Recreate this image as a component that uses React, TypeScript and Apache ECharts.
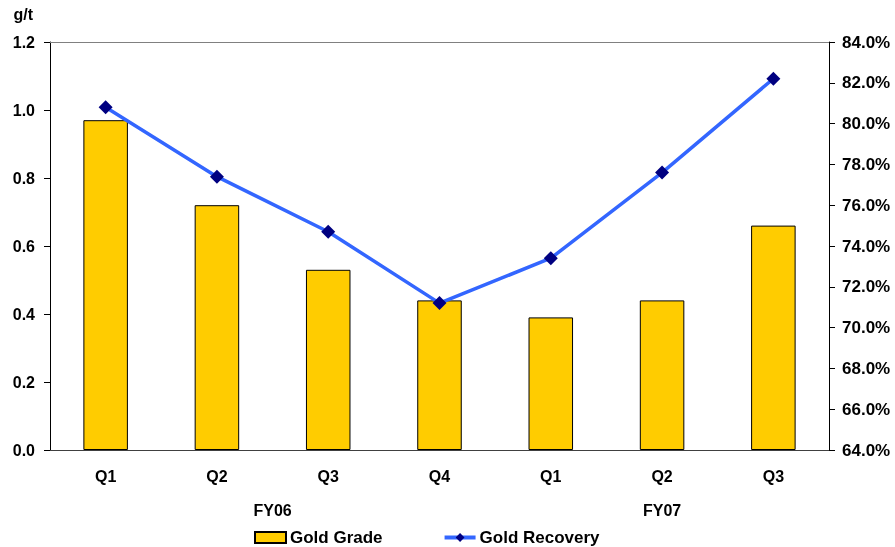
import React, { useEffect, useRef } from "react";
import * as echarts from "echarts";

const categories = ["Q1", "Q2", "Q3", "Q4", "Q1", "Q2", "Q3"];
const groups = [
  { name: "FY06", from: 0, to: 3 },
  { name: "FY07", from: 4, to: 6 },
];
const goldGrade = [0.97, 0.72, 0.53, 0.44, 0.39, 0.44, 0.66];
const goldRecovery = [80.8, 77.4, 74.7, 71.2, 73.4, 77.6, 82.2];

const FONT = "'Liberation Sans', Arial, sans-serif";

export default function App() {
  const ref = useRef<HTMLDivElement>(null);
  useEffect(() => {
    if (!ref.current) return;
    const chart = echarts.init(ref.current, null, { renderer: "svg" });
    const textStyle = { fontFamily: FONT, fontWeight: "bold" as const, fontSize: 16, color: "#000" };
    chart.setOption({
      animation: false,
      textStyle: { fontFamily: FONT },
      grid: { left: 50, right: 66, top: 42, bottom: 97, containLabel: false },
      legend: {
        top: 529,
        left: 254,
        padding: 0,
        itemGap: 60,
        itemWidth: 31,
        itemHeight: 11,
        textStyle: { ...textStyle, fontSize: 17, padding: [0, 0, 0, -1] },
        data: [
          { name: "Gold Grade", icon: "rect" },
          { name: "Gold Recovery", lineStyle: { width: 4 } },
        ],
      },
      xAxis: [
        {
          type: "category",
          data: categories,
          position: "bottom",
          axisLine: { lineStyle: { color: "#404040", width: 1 } },
          axisTick: { show: false },
          axisLabel: { ...textStyle, margin: 18 },
        },
        {
          type: "category",
          data: categories,
          position: "top",
          axisLine: { lineStyle: { color: "#808080", width: 1 } },
          axisTick: { show: false },
          axisLabel: { show: false },
        },
      ],
      yAxis: [
        {
          type: "value",
          min: 0,
          max: 1.2,
          interval: 0.2,
          name: "g/t",
          nameLocation: "end",
          nameGap: 20,
          nameTextStyle: { ...textStyle, align: "right", padding: [0, 17, 0, 0] },
          axisLine: { show: true, lineStyle: { color: "#000" } },
          axisTick: { show: true, length: 6, lineStyle: { color: "#000" } },
          splitLine: { show: false },
          axisLabel: { ...textStyle, margin: 15, formatter: (v: number) => v.toFixed(1) },
        },
        {
          type: "value",
          min: 64,
          max: 84,
          interval: 2,
          position: "right",
          axisLine: { show: true, lineStyle: { color: "#000" } },
          axisTick: { show: true, length: 6, lineStyle: { color: "#000" } },
          splitLine: { show: false },
          axisLabel: { ...textStyle, fontSize: 17, margin: 13, formatter: (v: number) => v.toFixed(1) + "%" },
        },
      ],
      series: [
        {
          name: "Gold Grade",
          type: "bar",
          data: goldGrade,
          barWidth: "40%",
          itemStyle: { color: "#FFCC00", borderColor: "#000", borderWidth: 1 },
        },
        {
          name: "Gold Recovery",
          type: "line",
          yAxisIndex: 1,
          data: goldRecovery,
          symbol: "diamond",
          symbolSize: 14,
          lineStyle: { color: "#3366FF", width: 3.5 },
          itemStyle: { color: "#000080" },
          z: 5,
        },
      ],
    });
    const yLabel = 510;
    const elems = groups.map((g) => {
      const a = chart.convertToPixel({ xAxisIndex: 0 }, g.from) as number;
      const b = chart.convertToPixel({ xAxisIndex: 0 }, g.to) as number;
      return {
        type: "text",
        x: (a + b) / 2,
        y: yLabel,
        style: { text: g.name, font: `bold 16px ${FONT}`, fill: "#000", align: "center", verticalAlign: "middle" },
      };
    });
    chart.setOption({ graphic: elems });
    return () => chart.dispose();
  }, []);
  return (
    <div
      ref={ref}
      style={{ position: "fixed", left: 0, top: 0, width: 895, height: 547 }}
    />
  );
}
